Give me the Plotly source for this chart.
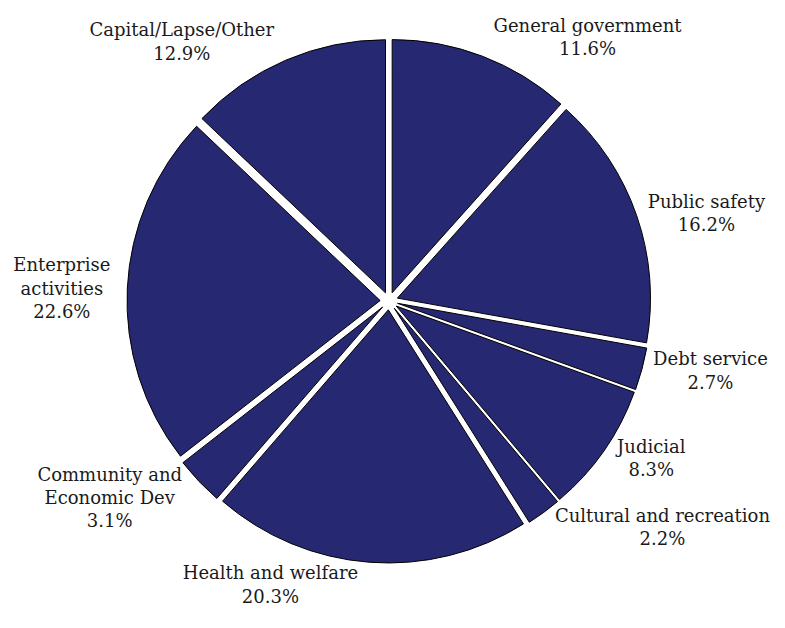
import plotly.graph_objects as go

labels = ["General government", "Public safety", "Debt service", "Judicial",
          "Cultural and recreation", "Health and welfare",
          "Community and Economic Dev", "Enterprise activities", "Capital/Lapse/Other"]
display_labels = ["General government", "Public safety", "Debt service", "Judicial",
                  "Cultural and recreation", "Health and welfare",
                  "Community and<br>Economic Dev", "Enterprise<br>activities", "Capital/Lapse/Other"]
values = [11.6, 16.2, 2.7, 8.3, 2.2, 20.3, 3.1, 22.6, 12.9]
pct_text = [f"{v}%" for v in values]

fig = go.Figure(go.Pie(
    labels=labels,
    values=values,
    customdata=display_labels,
    text=pct_text,
    texttemplate="%{customdata}<br>%{text}",
    textposition="outside",
    sort=False,
    direction="clockwise",
    rotation=0,
    pull=[0.035] * len(values),
    automargin=False,
    marker=dict(colors=["#272872"] * len(values), line=dict(color="#000000", width=1)),
    outsidetextfont=dict(family="DejaVu Serif", size=18, color="#1a1a1a"),
    showlegend=False,
    hoverinfo="skip",
))

fig.update_layout(
    width=785, height=628,
    margin=dict(l=52, r=75, t=31, b=73, autoexpand=False),
    paper_bgcolor="white",
    plot_bgcolor="white",
)

fig.write_html("out.html")
